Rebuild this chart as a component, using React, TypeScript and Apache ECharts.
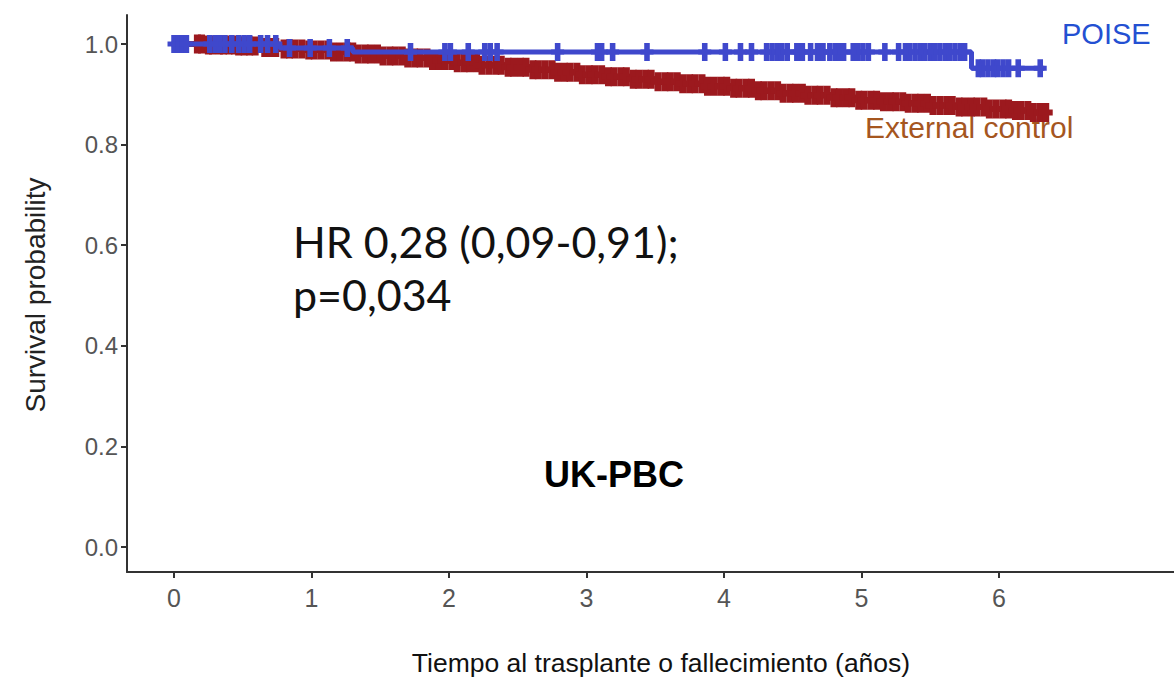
import React, { useEffect, useRef } from "react";
import * as echarts from "echarts";

// Kaplan–Meier step points (time in years, survival probability)
const poiseTimes = [0, 0.77, 1.3, 5.8, 6.33];
const poiseSurv = [1.0, 0.992, 0.984, 0.952, 0.952];
const poiseCensor = [
  0.0, 0.03, 0.06, 0.09, 0.26, 0.3, 0.33, 0.37, 0.42, 0.47, 0.51, 0.55, 0.63, 0.68, 0.74, 0.84,
  0.99, 1.13, 1.26, 1.72, 1.97, 2.01, 2.14, 2.26, 2.3, 2.35, 2.79, 3.08, 3.11, 3.19, 3.44, 3.86,
  4.01, 4.12, 4.2, 4.31, 4.35, 4.39, 4.42, 4.46, 4.53, 4.55, 4.57, 4.63, 4.68, 4.7, 4.72, 4.77,
  4.81, 4.84, 4.87, 4.94, 4.97, 5.01, 5.05, 5.17, 5.27, 5.32, 5.35, 5.39, 5.43, 5.46, 5.5, 5.53,
  5.57, 5.61, 5.64, 5.68, 5.72, 5.75, 5.85, 5.88, 5.92, 5.96, 5.99, 6.03, 6.07, 6.14, 6.3,
];

const extTimes = [
  0, 0.22, 0.45, 0.62, 0.8, 0.97, 1.15, 1.33, 1.52, 1.7, 1.88, 2.05, 2.24, 2.41, 2.6, 2.78, 2.95,
  3.13, 3.32, 3.5, 3.68, 3.86, 4.05, 4.23, 4.42, 4.6, 4.78, 4.97, 5.15, 5.34, 5.52, 5.71, 5.9,
  6.08, 6.25, 6.36,
];
const extSurv = [
  1.0, 0.998, 0.996, 0.993, 0.99, 0.988, 0.984, 0.98, 0.976, 0.972, 0.967, 0.963, 0.958, 0.954,
  0.949, 0.944, 0.939, 0.935, 0.93, 0.925, 0.921, 0.916, 0.912, 0.907, 0.902, 0.898, 0.893, 0.888,
  0.885, 0.882, 0.878, 0.875, 0.871, 0.868, 0.864, 0.862,
];
const extCensor = [
  0.17, 0.2, 0.25, 0.28, 0.33, 0.36, 0.4, 0.44, 0.47, 0.51, 0.55, 0.59, 0.66, 0.7, 0.74, 0.8, 0.84,
  0.88, 0.93, 0.98, 1.02, 1.07, 1.12, 1.16, 1.21, 1.26, 1.3, 1.34, 1.39, 1.43, 1.48, 1.52, 1.57,
  1.61, 1.66, 1.7, 1.75, 1.79, 1.84, 1.88, 1.93, 1.97, 2.02, 2.06, 2.11, 2.15, 2.2, 2.24, 2.29,
  2.34, 2.38, 2.43, 2.47, 2.52, 2.56, 2.61, 2.65, 2.7, 2.75, 2.79, 2.84, 2.88, 2.93, 2.97, 3.02,
  3.06, 3.11, 3.16, 3.2, 3.25, 3.29, 3.34, 3.38, 3.43, 3.47, 3.52, 3.57, 3.61, 3.66, 3.7, 3.75,
  3.79, 3.84, 3.88, 3.93, 3.98, 4.02, 4.07, 4.11, 4.16, 4.2, 4.25, 4.29, 4.34, 4.39, 4.43, 4.48,
  4.52, 4.57, 4.61, 4.66, 4.7, 4.75, 4.8, 4.84, 4.89, 4.93, 4.98, 5.02, 5.07, 5.11, 5.16, 5.21,
  5.25, 5.3, 5.34, 5.39, 5.43, 5.48, 5.52, 5.57, 5.62, 5.66, 5.71, 5.75, 5.8, 5.84, 5.89, 5.93,
  5.98, 6.03, 6.07, 6.12, 6.16, 6.21, 6.25, 6.3, 6.34,
];

const xTicks = [0, 1, 2, 3, 4, 5, 6];
const yTicks = [0, 0.2, 0.4, 0.6, 0.8, 1.0];

const xTitle = "Tiempo al trasplante o fallecimiento (años)";
const yTitle = "Survival probability";
const hrLines = ["HR 0,28 (0,09-0,91);", "p=0,034"];
const panelTitle = "UK-PBC";
const poiseName = "POISE";
const extName = "External control";

const BLUE = "#3F48CC";
const RED = "#9C191E";

const PLUS =
  "path://M-3,-9 L3,-9 L3,-2.5 L7,-2.5 L7,2.5 L3,2.5 L3,9 L-3,9 L-3,2.5 L-7,2.5 L-7,-2.5 L-3,-2.5 Z";
const PLUS_WIDE =
  "path://M-3.5,-9.5 L3.5,-9.5 L3.5,-3 L7,-3 L7,3 L3.5,3 L3.5,9.5 L-3.5,9.5 L-3.5,3 L-7,3 L-7,-3 L-3.5,-3 Z";

function stepAt(times: number[], surv: number[], t: number) {
  let v = surv[0];
  for (let i = 0; i < times.length; i++) {
    if (times[i] <= t) v = surv[i];
  }
  return v;
}

export default function App() {
  const ref = useRef<HTMLDivElement>(null);
  useEffect(() => {
    if (!ref.current) return;
    const chart = echarts.init(ref.current, null, { renderer: "svg" });
    const axisColor = "#333333";
    const font = "'Liberation Sans', Arial, sans-serif";
    chart.setOption({
      animation: false,
      backgroundColor: "#ffffff",
      grid: { left: 127, right: 0, top: 15, bottom: 108 },
      xAxis: {
        type: "value",
        min: -0.342,
        max: 7.273,
        axisLine: { show: true, onZero: false, lineStyle: { color: axisColor, width: 2 } },
        axisTick: { show: true, length: 6, customValues: xTicks, lineStyle: { color: axisColor, width: 2 } },
        axisLabel: {
          customValues: xTicks,
          fontSize: 25,
          color: "#555555",
          fontFamily: font,
          margin: 13,
        },
        splitLine: { show: false },
      },
      yAxis: {
        type: "value",
        min: -0.0497,
        max: 1.0577,
        axisLine: { show: true, onZero: false, lineStyle: { color: axisColor, width: 2 } },
        axisTick: { show: true, length: 6, customValues: yTicks, lineStyle: { color: axisColor, width: 2 } },
        axisLabel: {
          customValues: yTicks,
          fontSize: 24,
          color: "#555555",
          fontFamily: font,
          margin: 9,
          formatter: (v: number) => v.toFixed(1),
        },
        splitLine: { show: false },
      },
      series: [
        {
          name: extName,
          type: "line",
          step: "end",
          showSymbol: false,
          data: extTimes.map((t, i) => [t, extSurv[i]]),
          lineStyle: { color: RED, width: 6 },
          z: 2,
        },
        {
          name: extName + " censor",
          type: "scatter",
          symbol: PLUS_WIDE,
          symbolSize: [14, 19],
          data: extCensor.map((t) => [t, stepAt(extTimes, extSurv, t)]),
          itemStyle: { color: RED, opacity: 1 },
          z: 3,
        },
        {
          name: poiseName,
          type: "line",
          step: "end",
          showSymbol: false,
          data: poiseTimes.map((t, i) => [t, poiseSurv[i]]),
          lineStyle: { color: BLUE, width: 5 },
          z: 4,
        },
        {
          name: poiseName + " censor",
          type: "scatter",
          symbol: PLUS,
          symbolSize: [13, 18],
          data: poiseCensor.map((t) => [t, stepAt(poiseTimes, poiseSurv, t)]),
          itemStyle: { color: BLUE, opacity: 1 },
          z: 5,
        },
      ],
      graphic: [
        {
          type: "text",
          x: 1062,
          y: 34,
          style: { text: poiseName, fill: "#2350D2", font: `29px ${font}`, verticalAlign: "middle" },
        },
        {
          type: "text",
          x: 865,
          y: 127,
          style: { text: extName, fill: "#A5561F", font: `30px ${font}`, verticalAlign: "middle" },
        },
        {
          type: "text",
          x: 293,
          y: 241,
          style: {
            text: hrLines[0],
            fill: "#111111",
            font: `43px Lato, 'Open Sans', sans-serif`,
            verticalAlign: "middle",
          },
        },
        {
          type: "text",
          x: 293,
          y: 294,
          style: {
            text: hrLines[1],
            fill: "#111111",
            font: `43px Lato, 'Open Sans', sans-serif`,
            verticalAlign: "middle",
          },
        },
        {
          type: "text",
          x: 614,
          y: 474,
          style: {
            text: panelTitle,
            fill: "#000000",
            font: `bold 36px ${font}`,
            align: "center",
            verticalAlign: "middle",
          },
        },
        {
          type: "text",
          x: 661,
          y: 663,
          style: {
            text: xTitle,
            fill: "#111111",
            font: `26.5px ${font}`,
            align: "center",
            verticalAlign: "middle",
          },
        },
        {
          type: "text",
          x: 35,
          y: 295,
          rotation: Math.PI / 2,
          style: {
            text: yTitle,
            fill: "#222222",
            font: `28px ${font}`,
            align: "center",
            verticalAlign: "middle",
          },
        },
      ],
    });
    return () => chart.dispose();
  }, []);
  return (
    <div
      ref={ref}
      style={{ position: "absolute", left: 0, top: 0, width: 1174, height: 680 }}
    />
  );
}
